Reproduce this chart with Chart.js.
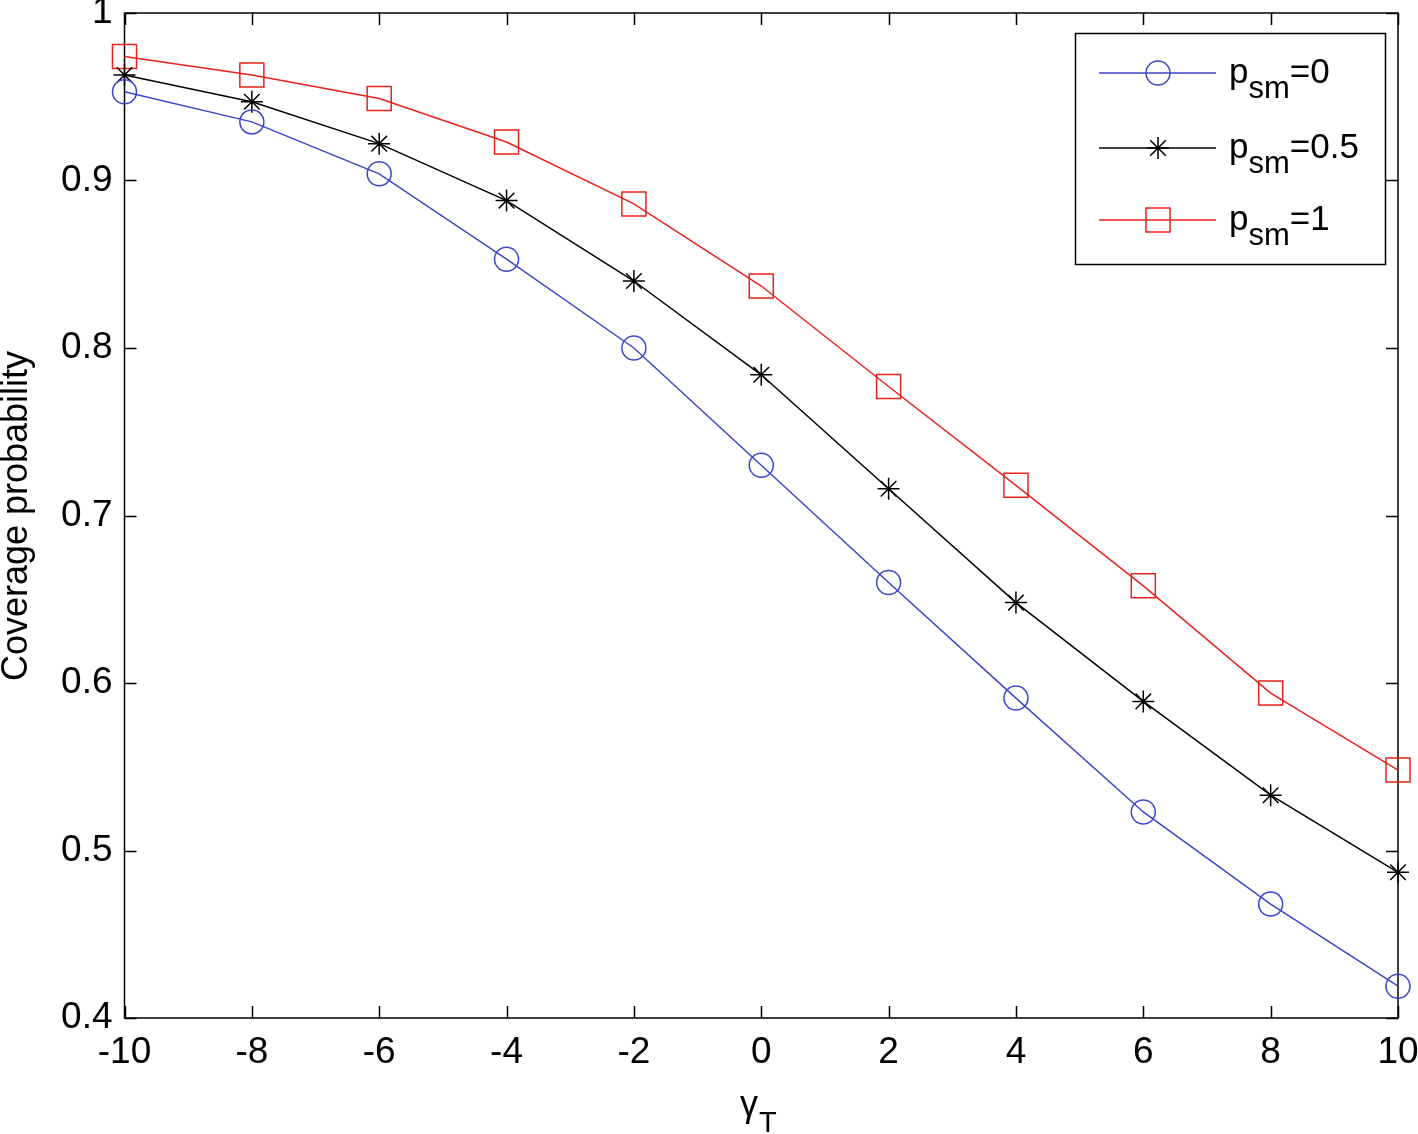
<!DOCTYPE html>
<html>
<head>
<meta charset="utf-8">
<title>Coverage probability</title>
<script src="https://cdn.jsdelivr.net/npm/chart.js@4.4.1/dist/chart.umd.min.js"></script>
<style>
  html, body { margin: 0; padding: 0; background: #fff; }
  canvas { display: block; }
</style>
</head>
<body>
<canvas id="chart" width="1418" height="1134"></canvas>
<script>
const gammaT = [-10, -8, -6, -4, -2, 0, 2, 4, 6, 8, 10];
const psm0 = [0.953, 0.935, 0.904, 0.853, 0.800, 0.730, 0.660, 0.591, 0.523, 0.468, 0.419];
const psm05 = [0.963, 0.947, 0.922, 0.888, 0.840, 0.784, 0.716, 0.648, 0.589, 0.533, 0.487];
const psm1 = [0.974, 0.963, 0.949, 0.923, 0.886, 0.837, 0.777, 0.718, 0.658, 0.594, 0.548];

const xTicks = [-10, -8, -6, -4, -2, 0, 2, 4, 6, 8, 10];
const yTicks = [0.4, 0.5, 0.6, 0.7, 0.8, 0.9, 1];
const seriesNames = ['0', '0.5', '1'];

const FONT = "Arial, 'Liberation Sans', Helvetica, sans-serif";
const BLUE = '#3c46c8';
const RED = '#e8221c';
const BLACK = '#000000';

const toPoints = (ys) => gammaT.map((x, i) => ({ x: x, y: ys[i] }));

// MATLAB style box, inward ticks, custom legend and axis titles
const matlabAxes = {
  id: 'matlabAxes',
  beforeDatasetsDraw(chart) {
    const { ctx, chartArea: a, scales } = chart;
    ctx.save();
    ctx.strokeStyle = '#000';
    ctx.lineWidth = 1.5;
    ctx.strokeRect(a.left, a.top, a.right - a.left, a.bottom - a.top);
    const len = 12;
    ctx.beginPath();
    xTicks.forEach((t) => {
      const px = Math.round(scales.x.getPixelForValue(t)) + 0.5;
      ctx.moveTo(px, a.bottom); ctx.lineTo(px, a.bottom - len);
      ctx.moveTo(px, a.top); ctx.lineTo(px, a.top + len);
    });
    yTicks.forEach((t) => {
      const py = Math.round(scales.y.getPixelForValue(t)) + 0.5;
      ctx.moveTo(a.left, py); ctx.lineTo(a.left + len, py);
      ctx.moveTo(a.right, py); ctx.lineTo(a.right - len, py);
    });
    ctx.stroke();
    ctx.restore();
  },
  afterDraw(chart) {
    const { ctx } = chart;
    ctx.save();
    ctx.fillStyle = '#000';

    // y title
    ctx.save();
    ctx.translate(27, 516);
    ctx.rotate(-Math.PI / 2);
    ctx.font = '36px ' + FONT;
    ctx.textAlign = 'center';
    ctx.textBaseline = 'alphabetic';
    ctx.fillText('Coverage probability', 0, 0);
    ctx.restore();

    // x title: gamma_T
    ctx.textBaseline = 'alphabetic';
    ctx.textAlign = 'left';
    ctx.font = '36px ' + FONT;
    ctx.fillText('γ', 740, 1116);
    ctx.font = '29px ' + FONT;
    ctx.fillText('T', 759, 1132);

    // legend
    const box = { x: 1075.5, y: 33.5, w: 310, h: 231 };
    ctx.fillStyle = '#fff';
    ctx.fillRect(box.x, box.y, box.w, box.h);
    ctx.strokeStyle = '#000';
    ctx.lineWidth = 1.5;
    ctx.strokeRect(box.x, box.y, box.w, box.h);
    const rows = [73, 148, 220];
    chart.data.datasets.forEach((ds, i) => {
      const y = rows[i];
      ctx.strokeStyle = ds.borderColor;
      ctx.fillStyle = 'rgba(0,0,0,0)';
      ctx.lineWidth = ds.borderWidth;
      ctx.beginPath();
      ctx.moveTo(1099, y); ctx.lineTo(1216, y);
      ctx.stroke();
      Chart.helpers.drawPoint(ctx, {
        pointStyle: ds.pointStyle,
        radius: ds.pointRadius,
        rotation: 0,
        borderWidth: ds.pointBorderWidth
      }, 1158, y);
      ctx.fillStyle = '#000';
      ctx.font = '35px ' + FONT;
      ctx.fillText('p', 1229, y + 10);
      let x = 1229 + ctx.measureText('p').width;
      ctx.font = '31px ' + FONT;
      ctx.fillText('sm', x, y + 25);
      x += ctx.measureText('sm').width;
      ctx.font = '35px ' + FONT;
      ctx.fillText('=' + seriesNames[i], x, y + 10);
    });
    ctx.restore();
  }
};

const makeDataset = (label, values, color, style, radius) => ({
  label: label,
  data: toPoints(values),
  borderColor: color,
  backgroundColor: 'rgba(0,0,0,0)',
  borderWidth: 1.5,
  pointStyle: style,
  pointRadius: radius,
  pointHoverRadius: radius,
  pointBorderColor: color,
  pointBackgroundColor: 'rgba(0,0,0,0)',
  pointBorderWidth: 1.5,
  tension: 0,
  fill: false,
  clip: false
});

const ctx = document.getElementById('chart').getContext('2d');
new Chart(ctx, {
  type: 'line',
  data: {
    datasets: [
      makeDataset('p_sm=0', psm0, BLUE, 'circle', 12),
      makeDataset('p_sm=0.5', psm05, BLACK, 'star', 11),
      makeDataset('p_sm=1', psm1, RED, 'rect', 17)
    ]
  },
  options: {
    responsive: false,
    animation: false,
    devicePixelRatio: 1,
    layout: { autoPadding: false, padding: { top: 13, right: 20, left: 0, bottom: 0 } },
    plugins: {
      legend: { display: false },
      tooltip: { enabled: false }
    },
    scales: {
      x: {
        type: 'linear',
        min: -10,
        max: 10,
        afterBuildTicks: (scale) => { scale.ticks = xTicks.map((v) => ({ value: v })); },
        afterFit: (scale) => {
          scale.height = 116;
          scale.paddingLeft = 0; scale.paddingRight = 0;
        },
        grid: { display: false, drawTicks: false },
        border: { display: false },
        ticks: {
          padding: 13,
          color: '#000',
          maxRotation: 0,
          font: { family: FONT, size: 37 },
          callback: (v) => String(v)
        }
      },
      y: {
        type: 'linear',
        min: 0.4,
        max: 1,
        afterBuildTicks: (scale) => { scale.ticks = yTicks.map((v) => ({ value: v })); },
        afterFit: (scale) => {
          scale.width = 124.5;
          scale.paddingTop = 0; scale.paddingBottom = 0;
        },
        grid: { display: false, drawTicks: false },
        border: { display: false },
        ticks: {
          padding: 12,
          color: '#000',
          font: { family: FONT, size: 37 },
          callback: (v) => String(+Number(v).toFixed(1))
        }
      }
    }
  },
  plugins: [matlabAxes]
});
</script>
</body>
</html>
